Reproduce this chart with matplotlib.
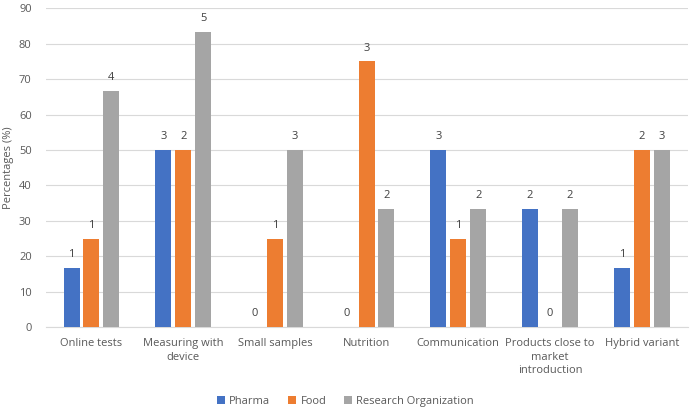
import matplotlib.pyplot as plt
import numpy as np

categories = ['Online tests', 'Measuring with\ndevice', 'Small samples', 'Nutrition',
              'Communication', 'Products close to\nmarket\nintroduction', 'Hybrid variant']
series = ['Pharma', 'Food', 'Research Organization']
pharma = [16.67, 50, 0, 0, 50, 33.33, 16.67]
food = [25, 50, 25, 75, 25, 0, 50]
research = [66.67, 83.33, 50, 33.33, 33.33, 33.33, 50]
pharma_n = [1, 3, 0, 0, 3, 2, 1]
food_n = [1, 2, 1, 3, 1, 0, 2]
research_n = [4, 5, 3, 2, 2, 2, 3]

colors = ['#4472C4', '#ED7D31', '#A5A5A5']
text_col = '#595959'

plt.rcParams['font.family'] = ['Open Sans', 'DejaVu Sans']
plt.rcParams['font.size'] = 8

fig = plt.figure(figsize=(6.91, 4.09), dpi=100)
ax = fig.add_axes([0.066, 0.2, 0.929, 0.78])

x = np.arange(len(categories))
w = 0.175
step = 0.217
for i, (vals, counts) in enumerate(zip([pharma, food, research], [pharma_n, food_n, research_n])):
    pos = x + (i - 1) * step
    ax.bar(pos, vals, width=w, color=colors[i], label=series[i], zorder=3)
    for p, v, c in zip(pos, vals, counts):
        ax.text(p, v + 2.2, str(c), ha='center', va='bottom', fontsize=8, color='#404040')

ax.set_xlim(-0.5, len(categories) - 0.5)
ax.set_ylim(0, 90)
ax.set_yticks(range(0, 91, 10))
ax.set_xticks(x)
ax.set_xticklabels(categories, color=text_col, linespacing=1.3)
ax.tick_params(axis='y', colors=text_col, length=0, pad=10)
ax.tick_params(axis='x', length=0, pad=8)
ax.grid(axis='y', color='#D9D9D9', linewidth=0.8, zorder=0)
for s in ['top', 'right', 'left']:
    ax.spines[s].set_visible(False)
ax.spines['bottom'].set_color('#D9D9D9')
ax.set_ylabel('Percentages (%)', color=text_col)
ax.yaxis.set_label_coords(-0.05, 0.5)

fig.legend(loc='lower center', bbox_to_anchor=(0.5, -0.02), ncol=3, frameon=False,
           handlelength=0.7, handleheight=0.7, columnspacing=1.6, handletextpad=0.4,
           labelcolor=text_col)

fig.savefig('out.png', dpi=100)
